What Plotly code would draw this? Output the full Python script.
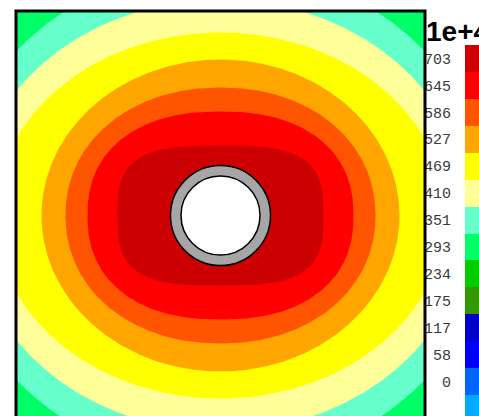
import numpy as np
import plotly.graph_objects as go

# Scale labels (units of 1e+4), highest first, and the colour of each band
level_labels = ["703", "645", "586", "527", "469", "410", "351",
                "293", "234", "175", "117", "58", "0"]
band_colors = ["#CC0000", "#FF0000", "#FF5500", "#FFA500", "#FFFF00",
               "#FFFF99", "#66FFCC", "#00FF66", "#00CC00", "#339900",
               "#0000CC", "#0000FF", "#0066FF", "#00AAFF"]

# Iso-lines in the field: half-width, half-height and superellipse exponent
iso_levels = [351, 410, 469, 527, 586, 645, 703]
iso_half_w = [272, 250, 225, 179, 155, 133, 103]
iso_half_h = [249, 216, 183, 156, 128, 104, 70]
iso_power = [2.0, 2.0, 2.0, 2.0, 2.1, 2.3, 3.2]

half_size = 204.5      # half side of the square domain
pipe_outer = 50.0      # pipe wall outer radius
pipe_inner = 39.5      # pipe bore radius
background_level = "293"


def band_color(level):
    return band_colors[level_labels.index(str(level))]


fig = go.Figure()

# filled regions, outermost first so inner regions sit on top
t = np.linspace(0, 2 * np.pi, 721)
for lvl, a, b, p in zip(iso_levels, iso_half_w, iso_half_h, iso_power):
    c, s = np.cos(t), np.sin(t)
    xs = a * np.sign(c) * np.abs(c) ** (2.0 / p)
    ys = b * np.sign(s) * np.abs(s) ** (2.0 / p)
    xs = np.clip(xs, -half_size, half_size)
    ys = np.clip(ys, -half_size, half_size)
    fig.add_trace(go.Scatter(
        x=xs, y=ys, mode="lines", fill="toself",
        fillcolor=band_color(lvl), line=dict(width=0),
        hoverinfo="skip", showlegend=False, xaxis="x", yaxis="y"))

# colour scale as a one-column heatmap
n_rows = len(band_colors)
rows = list(range(n_rows))
scale_colors = band_colors[::-1]          # row 0 = lowest band
colorscale = []
for k, col in enumerate(scale_colors):
    colorscale.append([k / n_rows, col])
    colorscale.append([(k + 1) / n_rows, col])
fig.add_trace(go.Heatmap(
    z=[[r] for r in rows], x=[0], y=rows,
    zmin=-0.5, zmax=n_rows - 0.5, colorscale=colorscale,
    showscale=False, hoverinfo="skip", xaxis="x2", yaxis="y2"))

W, H = 479, 416
x_lo_px, x_hi_px = 13, 428
y_top_px = 8
cx_px, cy_px = 220.5, 215.5

shapes = [
    dict(type="rect", xref="x", yref="y", x0=-half_size, x1=half_size,
         y0=-half_size, y1=half_size, fillcolor=band_color(background_level),
         line=dict(width=0), layer="below"),
    dict(type="rect", xref="x", yref="y", x0=-half_size, x1=half_size,
         y0=-half_size, y1=half_size, fillcolor="rgba(0,0,0,0)",
         line=dict(color="black", width=3), layer="above"),
    dict(type="circle", xref="x", yref="y", x0=-pipe_outer, x1=pipe_outer,
         y0=-pipe_outer, y1=pipe_outer, fillcolor="#A6A6A6",
         line=dict(color="black", width=1.5), layer="above"),
    dict(type="circle", xref="x", yref="y", x0=-pipe_inner, x1=pipe_inner,
         y0=-pipe_inner, y1=pipe_inner, fillcolor="white",
         line=dict(color="black", width=1.5), layer="above"),
]

box_top_px = 45
box_h_px = 26.9
span = (H - box_top_px) / box_h_px

fig.update_layout(
    width=W, height=H,
    margin=dict(l=0, r=0, t=0, b=0),
    paper_bgcolor="white", plot_bgcolor="white",
    shapes=shapes,
    xaxis=dict(domain=[x_lo_px / W, x_hi_px / W],
               range=[x_lo_px - cx_px, x_hi_px - cx_px],
               visible=False, showgrid=False, zeroline=False),
    yaxis=dict(domain=[0, 1 - y_top_px / H],
               range=[cy_px - H, cy_px - y_top_px],
               visible=False, showgrid=False, zeroline=False),
    xaxis2=dict(domain=[465 / W, 1], range=[-0.5, 0.5], anchor="y2",
                visible=False, showgrid=False, zeroline=False),
    yaxis2=dict(domain=[0, 1 - box_top_px / H],
                range=[n_rows - 0.5 - span, n_rows - 0.5],
                anchor="x2", side="left", showgrid=False, zeroline=False,
                showline=False, ticks="outside", ticklen=10,
                tickcolor="rgba(0,0,0,0)",
                tickvals=rows[1:], ticktext=level_labels[::-1],
                tickfont=dict(family="Liberation Mono", size=15,
                              color="#3a3a3a")),
    annotations=[dict(text="<b>1e+4</b>", xref="paper", yref="paper",
                      x=424 / W, y=1 - 32 / H, xanchor="left",
                      yanchor="middle", showarrow=False,
                      font=dict(family="Liberation Sans", size=28,
                                color="black"))],
)

fig.write_html("out.html")
